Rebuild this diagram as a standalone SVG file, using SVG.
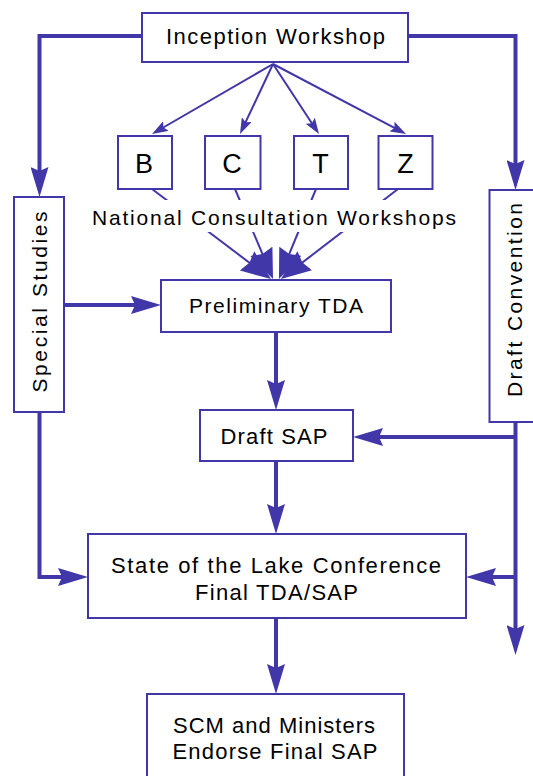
<svg xmlns="http://www.w3.org/2000/svg" width="533" height="776" viewBox="0 0 533 776">
<style>
.box{fill:#fff;stroke:#4137a9;stroke-width:2}
.t{font-family:"Liberation Sans",Arial,sans-serif;font-size:22px;fill:#000;text-anchor:middle}
.big{font-size:27px}
.main{fill:none;stroke:#4137a9;stroke-width:4}
.thin{fill:none;stroke:#4137a9;stroke-width:2}
</style>
<defs>
<marker id="ah" markerUnits="userSpaceOnUse" viewBox="0 0 30 18" markerWidth="30" markerHeight="18" refX="22" refY="9" orient="auto">
<path d="M0,0 L30,9 L0,18 L4,9 z" fill="#4137a9"/>
</marker>
<marker id="af" markerUnits="userSpaceOnUse" viewBox="0 0 30 24" markerWidth="30" markerHeight="24" refX="22" refY="12" orient="auto">
<path d="M0,0 L30,12 L0,24 L3,12 z" fill="#4137a9"/>
</marker>
<marker id="as" markerUnits="userSpaceOnUse" viewBox="0 0 16 11" markerWidth="16" markerHeight="11" refX="12" refY="5.5" orient="auto">
<path d="M0,0 L16,5.5 L0,11 L3,5.5 z" fill="#4137a9"/>
</marker>
</defs>

<g id="connectors">
<path class="main" d="M142,36 H39.5 V189" marker-end="url(#ah)"/>
<path class="main" d="M408,36 H515.5 V182" marker-end="url(#ah)"/>
<path class="main" d="M64,305 H153" marker-end="url(#ah)"/>
<path class="main" d="M276,332 V402" marker-end="url(#ah)"/>
<path class="main" d="M515.5,422 V647" marker-end="url(#ah)"/>
<path class="main" d="M515.5,437 H361" marker-end="url(#ah)"/>
<path class="main" d="M515.5,577 H474" marker-end="url(#ah)"/>
<path class="main" d="M276,461 V526" marker-end="url(#ah)"/>
<path class="main" d="M39.5,412 V577 H80" marker-end="url(#ah)"/>
<path class="main" d="M276,618 V686" marker-end="url(#ah)"/>
<path class="thin" d="M273,64 L155.5,132" marker-end="url(#as)"/>
<path class="thin" d="M273,64 L241.7,130.4" marker-end="url(#as)"/>
<path class="thin" d="M273,64 L316.8,130.7" marker-end="url(#as)"/>
<path class="thin" d="M273,64 L402.5,132.1" marker-end="url(#as)"/>
<path class="thin" d="M152,189 L264.6,274.2" marker-end="url(#af)"/>
<path class="thin" d="M235,189 L269.9,271.6" marker-end="url(#af)"/>
<path class="thin" d="M316,189 L282,271.6" marker-end="url(#af)"/>
<path class="thin" d="M398,189 L287.3,274.1" marker-end="url(#af)"/>
</g>

<g id="inception">
<rect class="box" x="142" y="13" width="266" height="49"/>
<text class="t" x="275.5" y="44" textLength="219" lengthAdjust="spacing">Inception Workshop</text>
</g>
<g id="special-studies">
<rect class="box" x="14" y="197" width="50" height="215"/>
<text class="t" style="font-size:21px" transform="translate(46.5,302) rotate(-90)" textLength="181" lengthAdjust="spacing">Special Studies</text>
</g>
<g id="draft-convention">
<rect class="box" x="489.5" y="190" width="60" height="232"/>
<text class="t" style="font-size:21px" transform="translate(521.5,300) rotate(-90)" textLength="194" lengthAdjust="spacing">Draft Convention</text>
</g>
<g id="b">
<rect class="box" x="118" y="136" width="54" height="53"/>
<text class="t big" x="144" y="173">B</text>
</g>
<g id="c">
<rect class="box" x="205" y="136" width="55.5" height="53"/>
<text class="t big" x="232" y="173">C</text>
</g>
<g id="t">
<rect class="box" x="294" y="136" width="54" height="53"/>
<text class="t big" x="320.5" y="173">T</text>
</g>
<g id="z">
<rect class="box" x="378.5" y="136" width="54" height="53"/>
<text class="t big" x="405.5" y="173">Z</text>
</g>
<g id="national-label">
<rect x="88" y="200" width="374" height="32" fill="#fff"/>
<text class="t" style="font-size:21px" x="274" y="225" textLength="364" lengthAdjust="spacing">National Consultation Workshops</text>
</g>
<g id="preliminary-tda">
<rect class="box" x="161" y="280" width="230" height="52"/>
<text class="t" style="font-size:21px" x="276" y="313" textLength="174" lengthAdjust="spacing">Preliminary TDA</text>
</g>
<g id="draft-sap">
<rect class="box" x="200" y="410" width="153" height="51"/>
<text class="t" x="274" y="444" textLength="107" lengthAdjust="spacing">Draft SAP</text>
</g>
<g id="state-of-lake">
<rect class="box" x="88" y="534" width="378" height="84"/>
<text class="t" x="276" y="572.5" textLength="330" lengthAdjust="spacing">State of the Lake Conference</text>
<text class="t" x="276.5" y="600" textLength="163" lengthAdjust="spacing">Final TDA/SAP</text>
</g>
<g id="scm">
<rect class="box" x="147" y="694" width="257" height="90"/>
<text class="t" x="274" y="732.5" textLength="202" lengthAdjust="spacing">SCM and Ministers</text>
<text class="t" x="275" y="758.5" textLength="205" lengthAdjust="spacing">Endorse Final SAP</text>
</g>
</svg>
